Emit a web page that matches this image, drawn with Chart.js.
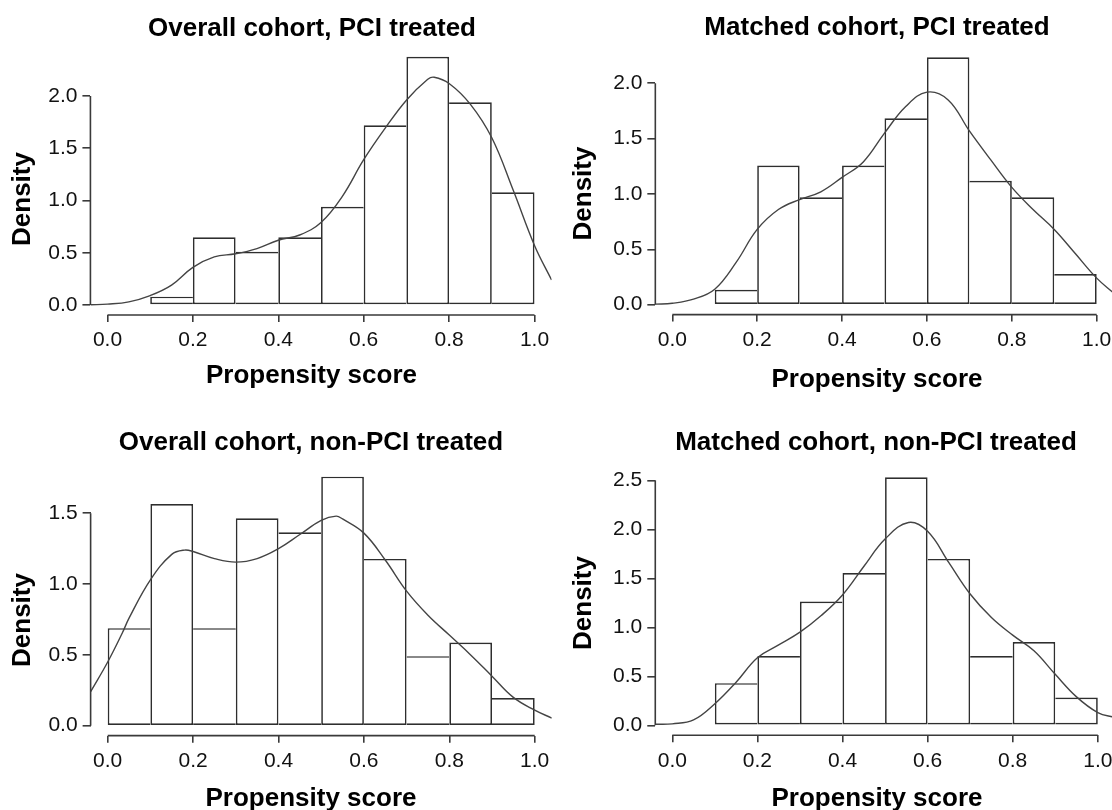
<!DOCTYPE html>
<html>
<head>
<meta charset="utf-8">
<script src="https://cdn.jsdelivr.net/npm/chart.js@4.4.1/dist/chart.umd.min.js"></script>
<style>
html,body{margin:0;padding:0;background:#fff;overflow:hidden;}
#wrap{position:relative;width:1112px;height:810px;overflow:hidden;background:#fff;}
#wrap canvas{position:absolute;}
</style>
</head>
<body>
<div id="wrap">
  <canvas id="c1" width="556" height="405" style="left:0px;top:0px"></canvas>
  <canvas id="c2" width="560" height="405" style="left:556px;top:0px"></canvas>
  <canvas id="c3" width="556" height="405" style="left:0px;top:405px"></canvas>
  <canvas id="c4" width="560" height="405" style="left:556px;top:405px"></canvas>
</div>
<script>
// ---------------- DATA ----------------
const titles = [
  "Overall cohort, PCI treated",
  "Matched cohort, PCI treated",
  "Overall cohort, non-PCI treated",
  "Matched cohort, non-PCI treated"
];
const xAxisTitle = "Propensity score";
const yAxisTitle = "Density";

// histogram bins (width 0.1), bin centres
const binCenters = [0.05, 0.15, 0.25, 0.35, 0.45, 0.55, 0.65, 0.75, 0.85, 0.95];

// histogram densities
const overallPCI    = [0, 0.08, 0.648, 0.51, 0.648, 0.94, 1.72, 2.376, 1.94, 1.078];
const matchedPCI    = [0, 0.135, 1.257, 0.971, 1.257, 1.684, 2.235, 1.119, 0.971, 0.277];
const overallNonPCI = [0.689, 1.566, 0.689, 1.465, 1.366, 1.759, 1.178, 0.491, 0.588, 0.195];
const matchedNonPCI = [0, 0.43, 0.707, 1.262, 1.553, 2.53, 1.698, 0.707, 0.849, 0.284];

// kernel density curves
const kdeX1 = [-0.04, 0, 0.05, 0.1, 0.15, 0.2, 0.25, 0.3, 0.35, 0.4, 0.45, 0.5, 0.55, 0.6, 0.65, 0.7, 0.75, 0.765, 0.8, 0.85, 0.9, 0.95, 1.0, 1.04];
const kdeY1 = [0.002, 0.008, 0.03, 0.09, 0.19, 0.36, 0.46, 0.49, 0.54, 0.62, 0.67, 0.79, 1.04, 1.39, 1.69, 1.96, 2.16, 2.18, 2.12, 1.92, 1.6, 1.1, 0.57, 0.24];

const kdeX2 = [-0.04, 0, 0.05, 0.1, 0.15, 0.2, 0.25, 0.3, 0.35, 0.4, 0.45, 0.5, 0.55, 0.6, 0.65, 0.7, 0.75, 0.8, 0.85, 0.9, 0.95, 1.0, 1.04];
const kdeY2 = [0.005, 0.013, 0.05, 0.14, 0.38, 0.68, 0.86, 0.95, 1.02, 1.15, 1.29, 1.55, 1.79, 1.92, 1.85, 1.57, 1.31, 1.06, 0.86, 0.68, 0.46, 0.24, 0.105];

const kdeX3 = [-0.04, 0, 0.035, 0.05, 0.1, 0.15, 0.18, 0.2, 0.25, 0.3, 0.35, 0.4, 0.45, 0.5, 0.535, 0.55, 0.6, 0.65, 0.7, 0.75, 0.8, 0.85, 0.9, 0.95, 1.0, 1.04];
const kdeY3 = [0.24, 0.45, 0.66, 0.76, 1.03, 1.21, 1.24, 1.23, 1.18, 1.155, 1.18, 1.25, 1.35, 1.45, 1.48, 1.46, 1.36, 1.17, 0.95, 0.78, 0.64, 0.5, 0.35, 0.2, 0.11, 0.054];

const kdeX4 = [-0.04, 0, 0.05, 0.1, 0.15, 0.2, 0.25, 0.3, 0.35, 0.4, 0.45, 0.5, 0.555, 0.6, 0.65, 0.7, 0.75, 0.8, 0.85, 0.9, 0.95, 1.0, 1.04];
const kdeY4 = [0.01, 0.015, 0.055, 0.22, 0.44, 0.69, 0.82, 0.95, 1.12, 1.33, 1.62, 1.9, 2.07, 1.98, 1.66, 1.34, 1.1, 0.92, 0.76, 0.52, 0.29, 0.13, 0.08];

// tick labels
const xTickValues = [0, 0.2, 0.4, 0.6, 0.8, 1.0];
const yTicks1 = [0, 0.5, 1.0, 1.5, 2.0];
const yTicks2 = [0, 0.5, 1.0, 1.5, 2.0];
const yTicks3 = [0, 0.5, 1.0, 1.5];
const yTicks4 = [0, 0.5, 1.0, 1.5, 2.0, 2.5];

// ---------------- LAYOUT / STYLE ----------------
const FONT_FAMILY = '"Liberation Sans", Arial, Helvetica, sans-serif';
const TICK_FONT_SIZE = 21;
const LABEL_FONT = 'bold 26px ' + FONT_FAMILY;
const BAR_LW = 1.7;
const BAR_COLOR = '#2e2e2e';
const CURVE_COLOR = '#444444';
const AXIS_COLOR = '#3a3a3a';
const Y_AXIS_W = 80;
const X_AXIS_H = 60;

const panels = [
  { id: 'c1', W: 556, H: 405, title: titles[0], bars: overallPCI, kx: kdeX1, ky: kdeY1, yTicks: yTicks1,
    x0: 107.5, ux: 427, y0: 305, uy: 104.5,
    txt: { tx: 312, ty: 36, xx: 311.5, xy: 383, yx: 30, yy: 199 } },
  { id: 'c2', W: 560, H: 405, title: titles[1], bars: matchedPCI, kx: kdeX2, ky: kdeY2, yTicks: yTicks2,
    x0: 116.3, ux: 424.4, y0: 304.7, uy: 110.7,
    txt: { tx: 321, ty: 35, xx: 321, xy: 386.5, yx: 35, yy: 193.5 } },
  { id: 'c3', W: 556, H: 405, title: titles[2], bars: overallNonPCI, kx: kdeX3, ky: kdeY3, yTicks: yTicks3,
    x0: 107.7, ux: 427, y0: 320.7, uy: 141.6,
    txt: { tx: 311, ty: 45, xx: 311, xy: 401, yx: 30, yy: 215 } },
  { id: 'c4', W: 560, H: 405, title: titles[3], bars: matchedNonPCI, kx: kdeX4, ky: kdeY4, yTicks: yTicks4,
    x0: 116.3, ux: 425.5, y0: 320.3, uy: 98.0,
    txt: { tx: 320, ty: 45, xx: 321, xy: 401, yx: 35, yy: 198 } }
];

function buildChart(p) {
  const maxBar = Math.max(...p.bars);
  const yMin = -0.04 * maxBar, yMax = 1.04 * maxBar;
  const xMin = -0.04, xMax = 1.04;
  const L = p.x0 + xMin * p.ux, R = p.x0 + xMax * p.ux;
  const T = p.y0 - yMax * p.uy, B = p.y0 - yMin * p.uy;

  const barData = binCenters.map((c, i) => ({ x: c, y: p.bars[i] }));
  const curveData = p.kx.map((x, i) => ({ x: x, y: p.ky[i] }));
  const yTop = p.yTicks[p.yTicks.length - 1];

  const axisLines = {
    id: 'axisLines',
    afterDatasetsDraw(chart) {
      const ctx = chart.ctx, xs = chart.scales.x, ys = chart.scales.y, a = chart.chartArea;
      ctx.save();
      ctx.strokeStyle = AXIS_COLOR;
      ctx.lineWidth = 1.6;
      ctx.beginPath();
      ctx.moveTo(xs.getPixelForValue(xTickValues[0]), a.bottom);
      ctx.lineTo(xs.getPixelForValue(xTickValues[xTickValues.length - 1]), a.bottom);
      ctx.moveTo(a.left, ys.getPixelForValue(p.yTicks[0]));
      ctx.lineTo(a.left, ys.getPixelForValue(yTop));
      ctx.stroke();
      ctx.restore();
    }
  };

  const texts = {
    id: 'texts',
    afterDraw(chart) {
      const ctx = chart.ctx, t = p.txt;
      ctx.save();
      ctx.fillStyle = '#000';
      ctx.font = LABEL_FONT;
      ctx.textAlign = 'center';
      ctx.textBaseline = 'alphabetic';
      ctx.fillText(p.title, t.tx, t.ty);
      ctx.fillText(xAxisTitle, t.xx, t.xy);
      ctx.translate(t.yx, t.yy);
      ctx.rotate(-Math.PI / 2);
      ctx.fillText(yAxisTitle, 0, 0);
      ctx.restore();
    }
  };

  const fitFixed = (size, horizontal) => (scale) => {
    if (horizontal) scale.height = size; else scale.width = size;
    scale.paddingLeft = 0; scale.paddingRight = 0;
    scale.paddingTop = 0; scale.paddingBottom = 0;
  };

  return new Chart(document.getElementById(p.id), {
    type: 'bar',
    data: {
      datasets: [
        {
          type: 'line',
          data: curveData,
          borderColor: CURVE_COLOR,
          borderWidth: 1.4,
          pointRadius: 0,
          pointHoverRadius: 0,
          tension: 0.4,
          fill: false,
          order: 0
        },
        {
          type: 'bar',
          data: barData,
          backgroundColor: '#ffffff',
          borderColor: BAR_COLOR,
          borderSkipped: false,
          inflateAmount: 0,
          barPercentage: 1,
          categoryPercentage: 1,
          borderWidth: (ctx) => {
            if (ctx.dataIndex === undefined) return BAR_LW;
            const d = ctx.dataset.data, i = ctx.dataIndex;
            const cur = d[i].y;
            const prev = i > 0 ? d[i - 1].y : 0;
            const next = i < d.length - 1 ? d[i + 1].y : 0;
            return { top: BAR_LW, bottom: BAR_LW, left: prev < cur ? BAR_LW : 0, right: next <= cur ? BAR_LW : 0 };
          },
          order: 1
        }
      ]
    },
    options: {
      responsive: false,
      animation: false,
      events: [],
      layout: { padding: { left: L - Y_AXIS_W, right: p.W - R, top: T, bottom: p.H - B - X_AXIS_H } },
      plugins: { legend: { display: false }, tooltip: { enabled: false }, title: { display: false } },
      scales: {
        x: {
          type: 'linear',
          min: xMin, max: xMax,
          offset: false,
          afterBuildTicks: (s) => { s.ticks = xTickValues.map(v => ({ value: v })); },
          afterFit: fitFixed(X_AXIS_H, true),
          grid: { display: true, offset: false, drawOnChartArea: false, drawTicks: true, tickLength: 7, color: AXIS_COLOR, lineWidth: 1.6 },
          border: { display: false },
          ticks: {
            autoSkip: false, maxRotation: 0, minRotation: 0, padding: 6,
            color: '#111', font: { family: FONT_FAMILY, size: TICK_FONT_SIZE },
            callback: (v) => Number(v).toFixed(1)
          }
        },
        y: {
          type: 'linear',
          min: yMin, max: yMax,
          afterBuildTicks: (s) => { s.ticks = p.yTicks.map(v => ({ value: v })); },
          afterFit: fitFixed(Y_AXIS_W, false),
          grid: { display: true, drawOnChartArea: false, drawTicks: true, tickLength: 8, color: AXIS_COLOR, lineWidth: 1.6 },
          border: { display: false },
          ticks: {
            autoSkip: false, padding: 5,
            color: '#111', font: { family: FONT_FAMILY, size: TICK_FONT_SIZE },
            callback: (v) => Number(v).toFixed(1)
          }
        }
      }
    },
    plugins: [axisLines, texts]
  });
}

panels.forEach(buildChart);
</script>
</body>
</html>
